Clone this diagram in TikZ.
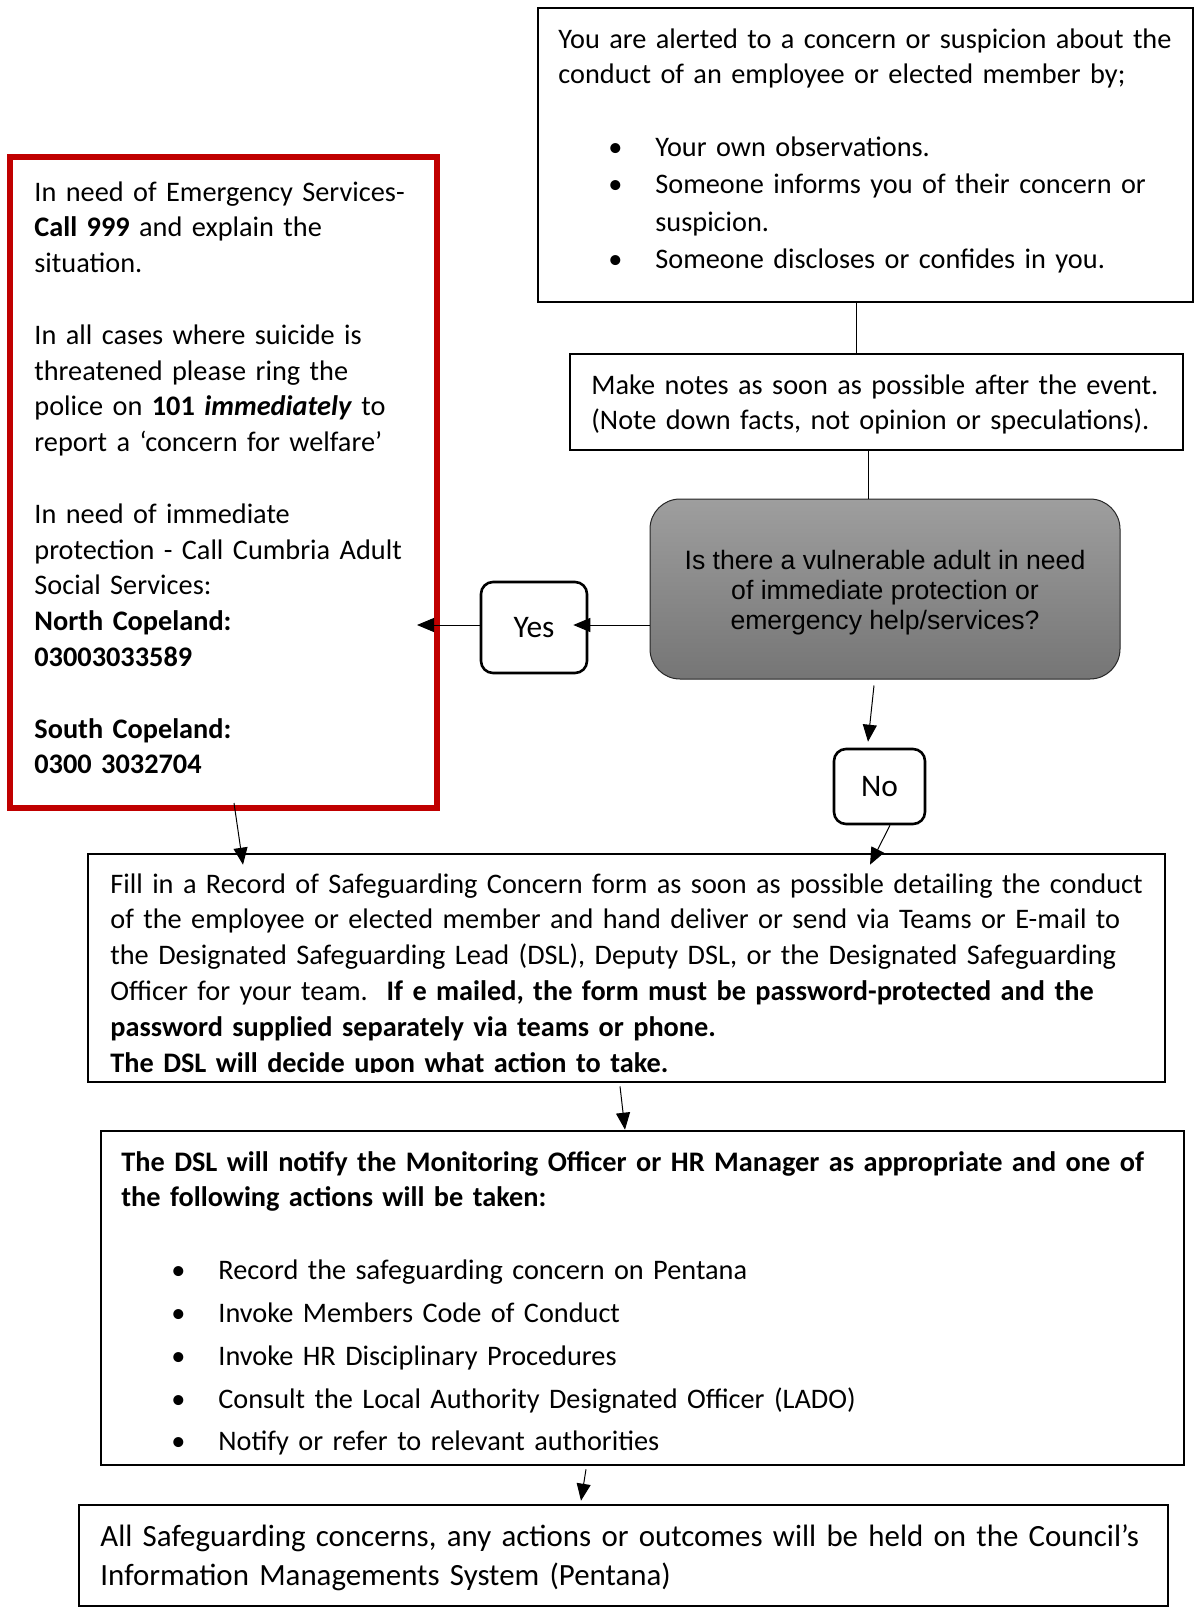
\documentclass[tikz,border=0pt]{standalone}
\usepackage{fontspec}
\setmainfont{Carlito}
\newfontfamily\arialfont{Liberation Sans}
\usetikzlibrary{arrows.meta}

\definecolor{alertred}{RGB}{192,0,0}
\newcommand{\bitem}{\hspace*{25pt}\makebox[23.5pt][l]{\textbullet}}
\hyphenpenalty=10000
\exhyphenpenalty=10000

\begin{document}
\begin{tikzpicture}[x=0.5pt,y=-0.5pt,
  box/.style={draw=black, line width=1.3pt, inner sep=0pt},
  txt/.style={anchor=base west, inner sep=0pt, align=left, text width=580pt,
    font=\fontsize{14.15}{17.9}\selectfont},
  answer/.style={box, rounded corners=6pt, font=\fontsize{15.7}{18}\selectfont},
  arr/.style={->, >={Triangle[length=8.5pt,width=7pt]}, line width=0.5pt},
  link/.style={line width=0.5pt}]

\useasboundingbox (0,0) rectangle (1195,1612);

\node [box, minimum width=327.5pt, minimum height=147pt] (alert) at (865.5,155) {};
\node [txt] (alerttxt) at (558,48) {You are alerted to a concern or suspicion about the\\
  conduct of an employee or elected member by;\\[18.5pt]
  \bitem Your own observations.\\[0.7pt]
  \bitem Someone informs you of their concern or\\[0.7pt]
  \hspace*{48.5pt}suspicion.\\[0.7pt]
  \bitem Someone discloses or confides in you.};

\node [box, minimum width=306.5pt, minimum height=48pt] (notes) at (876.5,402) {};
\node [txt] (notestxt) at (591,394) {Make notes as soon as possible after the event.\\
  (Note down facts, not opinion or speculations).};

\node [draw=black!85, line width=0.5pt, rounded corners=15pt, top color=black!38, bottom color=black!54,
  minimum width=235pt, minimum height=90pt] (question) at (885,589) {};
\node [align=center, font=\arialfont\fontsize{13.3}{15}\selectfont] (questiontxt) at (885,593)
  {Is there a vulnerable adult in need\\ of immediate protection or\\ emergency help/services?};

\node [answer, minimum width=53pt, minimum height=45.5pt] (yes) at (534,627.5) {\raisebox{-2pt}{Yes}};
\node [answer, minimum width=45.5pt, minimum height=37.5pt] (no) at (879.5,786.5) {\raisebox{-2pt}{No}};

\node [draw=alertred, line width=3pt, inner sep=0pt, minimum width=213.5pt, minimum height=325.5pt] (emergency) at (223.5,482.5) {};
\node [txt] (emergencytxt) at (34,201) {In need of Emergency Services-\\
  \textbf{Call 999} and explain the\\
  situation.\\[17.9pt]
  In all cases where suicide is\\
  threatened please ring the\\
  police on \textbf{101 \textit{immediately}} to\\
  report a ‘concern for welfare’\\[17.9pt]
  In need of immediate\\
  protection - Call Cumbria Adult\\
  Social Services:\\
  \textbf{North Copeland:}\\
  \textbf{03003033589}\\[17.9pt]
  \textbf{South Copeland:}\\
  \textbf{0300 3032704}};

\node [box, minimum width=538.5pt, minimum height=114pt] (record) at (626.5,968) {};
\begin{scope}
\clip (88,854) rectangle (1165,1072);
\node [txt] (recordtxt) at (110,893) {Fill in a Record of Safeguarding Concern form as soon as possible detailing the conduct\\
  of the employee or elected member and hand deliver or send via Teams or E-mail to\\
  the Designated Safeguarding Lead (DSL), Deputy DSL, or the Designated Safeguarding\\
  Officer for your team.\ \ \textbf{If e mailed, the form must be password-protected and the}\\
  \textbf{password supplied separately via teams or phone.}\\
  \textbf{The DSL will decide upon what action to take.}};
\end{scope}

\node [box, minimum width=541.5pt, minimum height=167pt] (notify) at (642.5,1298) {};
\node [txt] (notifytxt) at (121,1171) {\textbf{The DSL will notify the Monitoring Officer or HR Manager as appropriate and one of}\\
  \textbf{the following actions will be taken:}\\[18.5pt]
  \bitem Record the safeguarding concern on Pentana\\[3.5pt]
  \bitem Invoke Members Code of Conduct\\[3.5pt]
  \bitem Invoke HR Disciplinary Procedures\\[3.5pt]
  \bitem Consult the Local Authority Designated Officer (LADO)\\[3.5pt]
  \bitem Notify or refer to relevant authorities};

\node [box, minimum width=544.5pt, minimum height=50.5pt] (pentana) at (623.5,1555.5) {};
\node [txt, font=\fontsize{15.45}{19.5}\selectfont] (pentanatxt) at (100,1546) {All Safeguarding concerns, any actions or outcomes will be held on the Council’s\\
  Information Managements System (Pentana)};

\coordinate (redin) at (417,625);

\draw [link] (alert.south -| 856,0) -- (notes.north -| 856,0);
\draw [link] (notes.south -| 868,0) -- (question.north -| 868,0);
\draw [arr] (question.west |- 0,625) -- ([xshift=-7.5pt]yes.east |- 0,625);
\draw [arr] (yes.west |- 0,625) -- (redin);
\draw [arr] ([yshift=-3pt]question.south -| 874,0) -- ([yshift=3pt]no.north -| 868,0);
\draw [arr] (no.south -| 890,0) -- ([yshift=-6pt]record.north -| 870,0);
\draw [arr] ([yshift=4pt]emergency.south -| 234,0) -- ([yshift=-6pt]record.north -| 243,0);
\draw [arr] ([yshift=-1.5pt]record.south -| 620,0) -- (notify.north -| 625,0);
\draw [arr] ([yshift=-1.5pt]notify.south -| 586,0) -- ([yshift=1.5pt]pentana.north -| 581,0);

\end{tikzpicture}
\end{document}
